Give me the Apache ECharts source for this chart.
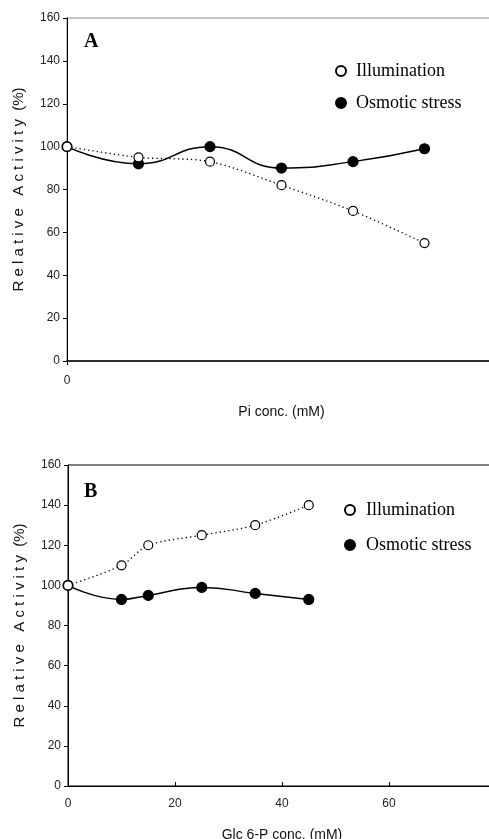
<!DOCTYPE html>
<html>
<head>
<meta charset="utf-8">
<script src="https://cdn.jsdelivr.net/npm/echarts@6/dist/echarts.min.js"></script>
<style>
  html, body { margin: 0; padding: 0; background: #fff; }
  #main { width: 489px; height: 839px; }
</style>
</head>
<body>
<div id="main"></div>
<script>
// panel A: Pi conc. (only the 0 tick is labelled in the figure)
var piConc = [0, 10, 20, 30, 40, 50];
var piIllum = [100, 95, 93, 82, 70, 55];
var piOsmo = [100, 92, 100, 90, 93, 99];

// panel B: Glc 6-P conc.
var glcConc = [0, 10, 15, 25, 35, 45];
var glcIllum = [100, 110, 120, 125, 130, 140];
var glcOsmo = [100, 93, 95, 99, 96, 93];

var yTicks = [0, 20, 40, 60, 80, 100, 120, 140, 160];

function pairs(xs, ys) {
  var out = [];
  for (var i = 0; i < xs.length; i++) {
    out.push([xs[i], ys[i]]);
  }
  return out;
}

var chart = echarts.init(document.getElementById('main'), null, { renderer: 'canvas' });

var yTitle = 'R e l a t i v e   A c t i v i t y  (%)';
var sans = 'Liberation Sans, Arial, sans-serif';
var serif = 'Liberation Serif, Times New Roman, serif';

function yAxisOf(idx) {
  return {
    type: 'value',
    gridIndex: idx,
    min: yTicks[0],
    max: yTicks[yTicks.length - 1],
    interval: 20,
    name: yTitle,
    nameLocation: 'middle',
    nameGap: 41,
    nameTextStyle: { fontFamily: sans, fontSize: 15, color: '#111' },
    axisLine: { show: true, lineStyle: { color: '#000', width: 1 } },
    axisTick: { show: true, inside: false, length: 4, lineStyle: { color: '#000' } },
    axisLabel: { fontFamily: sans, fontSize: 12, color: '#222', margin: 7 },
    splitLine: { show: false }
  };
}

function lineSeries(name, idx, data, filled) {
  return {
    name: name,
    type: 'line',
    xAxisIndex: idx,
    yAxisIndex: idx,
    data: data,
    smooth: filled ? 0.5 : 0.3,
    symbol: 'circle',
    symbolSize: filled ? 10 : 9,
    z: filled ? 2 : 3,
    lineStyle: {
      color: '#000',
      width: filled ? 1.5 : 1.3,
      type: filled ? 'solid' : [1.3, 3]
    },
    itemStyle: {
      color: filled ? '#000' : '#fff',
      borderColor: '#000',
      borderWidth: 1.2
    },
    emphasis: { disabled: true },
    animation: false
  };
}

var option = {
  backgroundColor: '#fff',
  animation: false,
  title: [
    { text: 'A', left: 79, top: 27, textStyle: { fontFamily: serif, fontWeight: 'bold', fontSize: 20, color: '#000' } },
    { text: 'B', left: 79, top: 477, textStyle: { fontFamily: serif, fontWeight: 'bold', fontSize: 20, color: '#000' } }
  ],
  legend: [
    {
      left: 335, top: 62, orient: 'vertical', itemGap: 14, padding: 0,
      icon: 'circle', itemWidth: 10, itemHeight: 10,
      selectedMode: false,
      data: ['Illumination', 'Osmotic stress'],
      textStyle: { fontFamily: serif, fontSize: 18, color: '#000', padding: [0, 0, 0, 5] }
    },
    {
      left: 344, top: 501, orient: 'vertical', itemGap: 17, padding: 0,
      icon: 'circle', itemWidth: 10, itemHeight: 10,
      selectedMode: false,
      data: ['Illumination', 'Osmotic stress'],
      textStyle: { fontFamily: serif, fontSize: 18, color: '#000', padding: [0, 0, 0, 6] }
    }
  ],
  grid: [
    { left: 67, top: 18, width: 429, height: 343, outerBoundsMode: 'none', show: true, borderColor: '#888', borderWidth: 1, backgroundColor: 'transparent' },
    { left: 68, top: 465, width: 428, height: 321, outerBoundsMode: 'none', show: true, borderColor: '#000', borderWidth: 1, backgroundColor: 'transparent' }
  ],
  xAxis: [
    {
      type: 'value', gridIndex: 0, min: 0, max: 60, interval: 10,
      name: 'Pi conc. (mM)', nameLocation: 'middle', nameGap: 44,
      nameTextStyle: { fontFamily: sans, fontSize: 14, color: '#111' },
      axisLine: { show: true, lineStyle: { color: '#000', width: 1.5 } },
      axisTick: { show: true, inside: false, length: 4, customValues: [0], lineStyle: { color: '#000' } },
      axisLabel: { fontFamily: sans, fontSize: 12, color: '#222', margin: 14, customValues: [0] },
      splitLine: { show: false }
    },
    {
      type: 'value', gridIndex: 1, min: 0, max: 80, interval: 20,
      name: 'Glc 6-P conc. (mM)', nameLocation: 'middle', nameGap: 42,
      nameTextStyle: { fontFamily: sans, fontSize: 14, color: '#111' },
      axisLine: { show: true, lineStyle: { color: '#000', width: 1 } },
      axisTick: { show: true, inside: true, length: 4, lineStyle: { color: '#000' } },
      axisLabel: {
        fontFamily: sans, fontSize: 12, color: '#222', margin: 12,
        formatter: function (v) { return v >= 80 ? '' : String(v); }
      },
      splitLine: { show: false }
    }
  ],
  yAxis: [yAxisOf(0), yAxisOf(1)],
  series: [
    lineSeries('Osmotic stress', 0, pairs(piConc, piOsmo), true),
    lineSeries('Illumination', 0, pairs(piConc, piIllum), false),
    lineSeries('Osmotic stress', 1, pairs(glcConc, glcOsmo), true),
    lineSeries('Illumination', 1, pairs(glcConc, glcIllum), false)
  ]
};

chart.setOption(option);
</script>
</body>
</html>
